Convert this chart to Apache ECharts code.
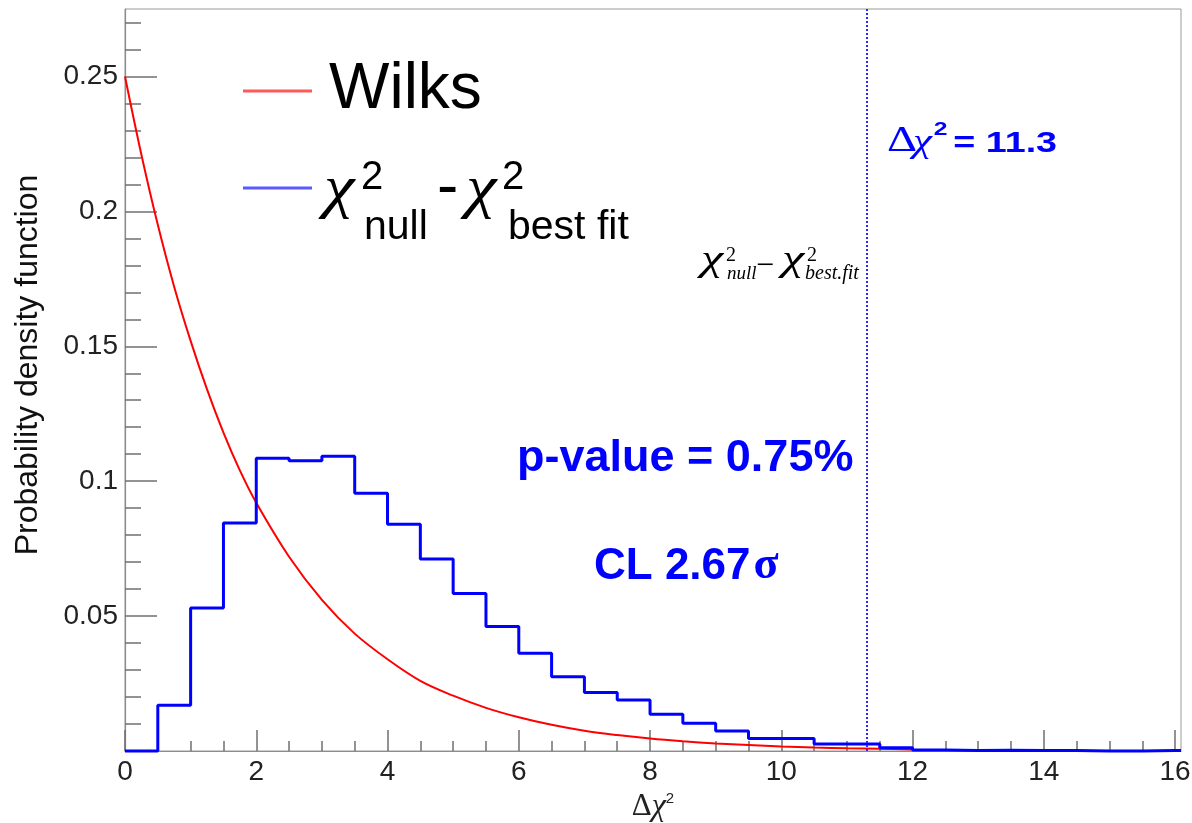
<!DOCTYPE html>
<html>
<head>
<meta charset="utf-8">
<title>Δχ² distribution</title>
<script src="https://cdn.jsdelivr.net/npm/echarts@6/dist/echarts.min.js"></script>
<style>
  html, body { margin: 0; padding: 0; background: #ffffff; }
  #chart { width: 1192px; height: 823px; }
</style>
</head>
<body>
<div id="chart"></div>
<script>
// ---- data ----------------------------------------------------------------
// Δχ² = χ²null − χ²best fit from pseudo-experiments, bins of width 0.5 starting at 0
const binWidth = 0.5;
const histValues = [
  0, 0.017, 0.053, 0.0845, 0.1085, 0.1076, 0.1092, 0.0955,
  0.084, 0.0712, 0.0584, 0.0461, 0.0362, 0.0275, 0.0217, 0.0189,
  0.0136, 0.0103, 0.0074, 0.0046, 0.0046, 0.0026, 0.0026, 0.0012,
  0.0004, 0.0002, 0.0003, 0.0002, 0.0002, 0, 0, 0.0002
];

// Wilks asymptotic density
const wilksX = [0, 0.25, 0.5, 0.75, 1, 1.25, 1.5, 1.75, 2, 2.5, 3, 3.5, 4, 4.5, 5,
                5.5, 6, 6.5, 7, 7.5, 8, 8.5, 9, 9.5, 10, 10.5, 11, 11.5, 12];
const wilksY = [0.25, 0.221, 0.195, 0.172, 0.152, 0.134, 0.118, 0.104, 0.092, 0.072,
                0.056, 0.0435, 0.034, 0.026, 0.0205, 0.016, 0.0125, 0.0097, 0.0075,
                0.0059, 0.0046, 0.0036, 0.0028, 0.0022, 0.0017, 0.0013, 0.001, 0.0008, 0.0006];

// observed value
const deltaChi2 = 11.3;
const pValueText = 'p-value = 0.75%';
const clText = 'CL 2.67';

// axes
const xMin = 0, xMax = 16.09;
const yMin = 0, yMax = 0.275;
const xMajorTicks = [0, 2, 4, 6, 8, 10, 12, 14, 16];
const yMajorTicks = [0.05, 0.1, 0.15, 0.2, 0.25];
const xMinorStep = 0.5;
const yMinorStep = 0.01;

// ---- helpers ---------------------------------------------------------------
const SANS = '"Liberation Sans", Arial, Helvetica, sans-serif';
const SERIF = '"Liberation Serif", "Times New Roman", serif';

function minorTicks(step, max, majors) {
  const out = [];
  for (let k = 1; k * step <= max + 1e-9; k++) {
    const v = +(k * step).toFixed(6);
    if (!majors.some(m => Math.abs(m - v) < 1e-9)) out.push(v);
  }
  return out;
}

function fontOf(size, o) {
  const serif = o.family === 'serif';
  return (o.italic ? 'italic ' : '') + (o.bold ? 'bold ' : '') + size + 'px ' + (serif ? SERIF : SANS);
}

const measureCtx = document.createElement('canvas').getContext('2d');
function textWidth(text, size, o) {
  measureCtx.font = fontOf(size, o || {});
  return measureCtx.measureText(text).width;
}

// text element placed by its baseline
function txt(text, x, baseline, size, o) {
  o = o || {};
  const k = o.family === 'serif' ? 0.3375 : 0.3465;
  const el = {
    type: 'text',
    x: x,
    y: baseline - k * size,
    z: 10,
    style: {
      text: text,
      fill: o.color || '#000000',
      font: fontOf(size, o),
      textAlign: 'left',
      verticalAlign: 'middle'
    }
  };
  if (o.scaleX) el.scaleX = o.scaleX;
  return el;
}

const histData = histValues.map((v, i) => [i * binWidth, v]);
histData.push([histValues.length * binWidth, histValues[histValues.length - 1]]);
histData.push([xMax, 0]);

const wilksData = wilksX.map((x, i) => [x, wilksY[i]]);

const axisGray = '#8c8c8c';
const tickGray = '#707070';
const labelStyle = { color: '#222222', fontSize: 28, fontFamily: SANS };
const blue = '#0000ff';

const clWidth = textWidth(clText, 44, { bold: true });

const chart = echarts.init(document.getElementById('chart'), null, { renderer: 'canvas' });

chart.setOption({
  animation: false,
  backgroundColor: '#ffffff',
  grid: {
    left: 125, right: 11, top: 9, bottom: 72,
    show: true, borderColor: '#9a9a9a', borderWidth: 1,
    containLabel: false, outerBoundsMode: 'none'
  },
  xAxis: [
    {
      type: 'value', min: xMin, max: xMax, position: 'bottom',
      axisLine: { onZero: false, lineStyle: { color: axisGray, width: 1.2 } },
      axisTick: { inside: true, length: 21, customValues: xMajorTicks, lineStyle: { color: tickGray, width: 1.5 } },
      axisLabel: { customValues: xMajorTicks, margin: 7, ...labelStyle },
      splitLine: { show: false },
      name: '{d|Δ}{c|χ}{s|2}',
      nameLocation: 'middle',
      nameGap: 35,
      nameTextStyle: {
        rich: {
          d: { fontFamily: SERIF, fontSize: 31, color: '#222222' },
          c: { fontFamily: SERIF, fontStyle: 'italic', fontSize: 32, color: '#222222' },
          s: { fontFamily: SANS, fontSize: 15, color: '#222222', verticalAlign: 'top' }
        }
      }
    },
    {
      type: 'value', min: xMin, max: xMax, position: 'bottom',
      axisLine: { show: false, onZero: false },
      axisTick: { inside: true, length: 10, customValues: minorTicks(xMinorStep, 16, xMajorTicks), lineStyle: { color: tickGray, width: 1.5 } },
      axisLabel: { show: false },
      splitLine: { show: false }
    }
  ],
  yAxis: [
    {
      type: 'value', min: yMin, max: yMax, position: 'left',
      axisLine: { show: true, onZero: false, lineStyle: { color: axisGray, width: 1.2 } },
      axisTick: { show: true, inside: true, length: 32, customValues: yMajorTicks, lineStyle: { color: tickGray, width: 1.5 } },
      axisLabel: { customValues: yMajorTicks, margin: 7, ...labelStyle },
      splitLine: { show: false }
    },
    {
      type: 'value', min: yMin, max: yMax, position: 'left',
      axisLine: { show: false, onZero: false },
      axisTick: { show: true, inside: true, length: 16, customValues: minorTicks(yMinorStep, 0.27, yMajorTicks), lineStyle: { color: tickGray, width: 1.5 } },
      axisLabel: { show: false },
      splitLine: { show: false }
    }
  ],
  series: [
    {
      name: 'Wilks',
      type: 'line',
      xAxisIndex: 0, yAxisIndex: 0,
      data: wilksData,
      smooth: 0.35,
      symbol: 'none',
      clip: false,
      lineStyle: { color: '#ff0000', width: 2 },
      z: 2
    },
    {
      name: 'χ²null - χ²best fit',
      type: 'line',
      xAxisIndex: 0, yAxisIndex: 0,
      data: histData,
      step: 'end',
      symbol: 'none',
      clip: false,
      lineStyle: { color: blue, width: 3 },
      z: 3,
      markLine: {
        silent: true,
        symbol: ['none', 'none'],
        label: { show: false },
        lineStyle: { type: 'dotted', color: '#2a2aff', width: 2 },
        data: [{ xAxis: deltaChi2 }]
      }
    }
  ],
  graphic: [
    // y axis title
    {
      type: 'text', x: 28, y: 365, rotation: Math.PI / 2, z: 10,
      style: {
        text: 'Probability density function',
        font: '32px ' + SANS, fill: '#111111',
        textAlign: 'center', verticalAlign: 'middle'
      }
    },

    // legend
    { type: 'line', z: 10, shape: { x1: 243, y1: 91, x2: 312, y2: 91 }, style: { stroke: '#ff5a5a', lineWidth: 3 } },
    txt('Wilks', 329, 113, 64),
    { type: 'line', z: 10, shape: { x1: 243, y1: 188, x2: 312, y2: 188 }, style: { stroke: '#5a5aff', lineWidth: 3 } },
    txt('χ', 324, 210, 60, { family: 'serif', italic: true, scaleX: 1.15 }),
    txt('2', 361, 192, 40),
    txt('null', 364, 242, 41),
    txt('-', 437, 212, 64),
    txt('χ', 466, 210, 60, { family: 'serif', italic: true, scaleX: 1.15 }),
    txt('2', 502, 192, 40),
    txt('best fit', 508, 242, 41),

    // formula next to the observed value
    txt('χ', 701, 273, 36, { family: 'serif', italic: true, scaleX: 1.4 }),
    txt('2', 726, 262, 20, { family: 'serif' }),
    txt('null', 727, 280, 19, { family: 'serif', italic: true }),
    txt('−', 756, 277, 32, { family: 'serif' }),
    txt('χ', 782, 273, 36, { family: 'serif', italic: true, scaleX: 1.4 }),
    txt('2', 807, 262, 20, { family: 'serif' }),
    txt('best.fit', 805, 280, 20, { family: 'serif', italic: true }),

    // observed Δχ² label
    {
      type: 'group', x: 887, y: 0, scaleX: 1.3, z: 10,
      children: [
        txt('Δ', 0, 154, 36, { family: 'serif', color: blue }),
        txt('χ', 20, 154, 33, { family: 'serif', italic: true, color: blue }),
        txt('2', 36, 136, 19, { bold: true, color: blue }),
        txt('= ' + deltaChi2.toFixed(1), 51, 154, 29, { bold: true, color: blue })
      ]
    },

    // significance
    txt(pValueText, 517, 474, 45, { bold: true, color: blue }),
    txt(clText, 594, 582, 44, { bold: true, color: blue }),
    txt('σ', 594 + clWidth + 3, 582, 46, { family: 'serif', bold: true, color: blue })
  ]
});
</script>
</body>
</html>
